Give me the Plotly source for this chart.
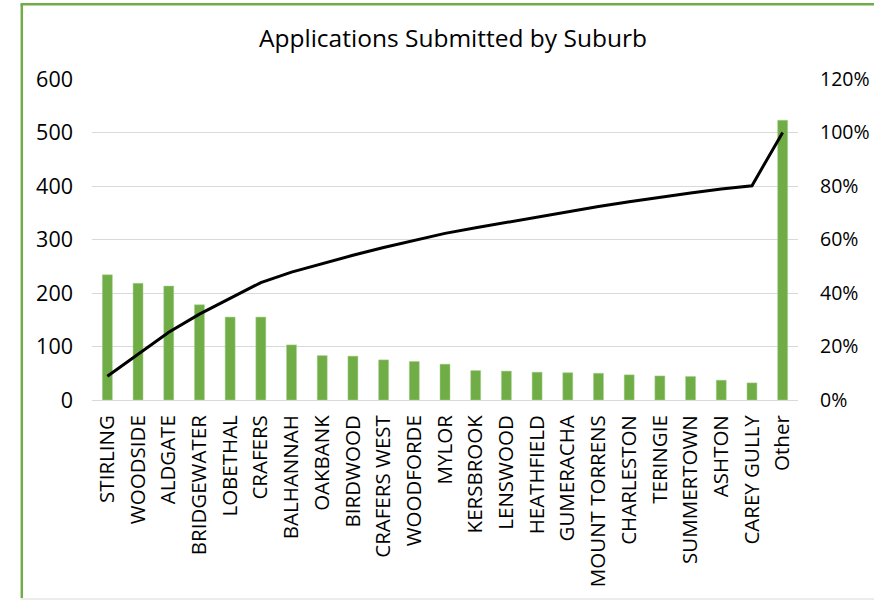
import plotly.graph_objects as go

suburbs = ["STIRLING", "WOODSIDE", "ALDGATE", "BRIDGEWATER", "LOBETHAL", "CRAFERS",
           "BALHANNAH", "OAKBANK", "BIRDWOOD", "CRAFERS WEST", "WOODFORDE", "MYLOR",
           "KERSBROOK", "LENSWOOD", "HEATHFIELD", "GUMERACHA", "MOUNT TORRENS",
           "CHARLESTON", "TERINGIE", "SUMMERTOWN", "ASHTON", "CAREY GULLY", "Other"]
applications = [234, 218, 213, 178, 155, 155, 103, 83, 82, 75, 72, 67,
                55, 54, 52, 51, 50, 47, 45, 44, 37, 32, 523]
cumulative_pct = [0.089, 0.172, 0.253, 0.321, 0.380, 0.439, 0.478, 0.510, 0.541, 0.570,
                  0.597, 0.623, 0.644, 0.664, 0.684, 0.704, 0.723, 0.741, 0.758, 0.774,
                  0.789, 0.801, 1.000]
left_ticks = [0, 100, 200, 300, 400, 500, 600]
right_ticks = [0, 0.2, 0.4, 0.6, 0.8, 1.0, 1.2]

FONT = "Open Sans"
L, R, T, B = 92, 76, 79, 200
W, H = 874, 600
pw, ph = W - L - R, H - T - B

def px_x(p):
    return (p - L) / pw

def px_y(p):
    return (H - B - p) / ph

fig = go.Figure()
fig.add_trace(go.Bar(x=suburbs, y=applications, marker=dict(color="#70AD47",
                     line=dict(color="#A9D18E", width=0.5)), yaxis="y", name="Applications"))
fig.add_trace(go.Scatter(x=suburbs, y=cumulative_pct, mode="lines",
                         line=dict(color="black", width=3), yaxis="y2", name="Cumulative %"))

fig.update_layout(
    width=W, height=H,
    margin=dict(l=L, r=R, t=T, b=B, autoexpand=False),
    paper_bgcolor="white", plot_bgcolor="white",
    showlegend=False,
    bargap=0.675,
    font=dict(family=FONT, color="black", size=21),
    title=dict(text="Applications Submitted by Suburb", x=453 / W, xanchor="center",
               y=1 - 38 / H, yanchor="middle", font=dict(family=FONT, size=24.5, color="black")),
    xaxis=dict(showgrid=False, tickangle=-90, showline=True, linecolor="#d9d9d9",
               linewidth=1, ticks="", tickfont=dict(size=20.5), ticklabelstandoff=6,
               automargin=False),
    yaxis=dict(range=[0, 600], tickvals=left_ticks, showgrid=True, gridcolor="#d9d9d9",
               gridwidth=1, zeroline=False, showline=False, ticks="",
               tickfont=dict(size=21.5), ticklabelstandoff=18, automargin=False),
    yaxis2=dict(range=[0, 1.2], tickvals=right_ticks, tickformat=".0%", overlaying="y",
                side="right", showgrid=False, zeroline=False, showline=False, ticks="",
                tickfont=dict(size=19.5), ticklabelstandoff=21, automargin=False),
    shapes=[
        dict(type="line", xref="paper", yref="paper", x0=px_x(21.8), x1=px_x(21.8),
             y0=px_y(4.3), y1=px_y(598), line=dict(color="#70AD47", width=2.5)),
        dict(type="line", xref="paper", yref="paper", x0=px_x(20.5), x1=px_x(880),
             y0=px_y(4.3), y1=px_y(4.3), line=dict(color="#70AD47", width=2.5)),
        dict(type="line", xref="paper", yref="paper", x0=px_x(20.5), x1=px_x(880),
             y0=px_y(599), y1=px_y(599), line=dict(color="#d9d9d9", width=1)),
    ],
)

fig.write_html("out.html")
